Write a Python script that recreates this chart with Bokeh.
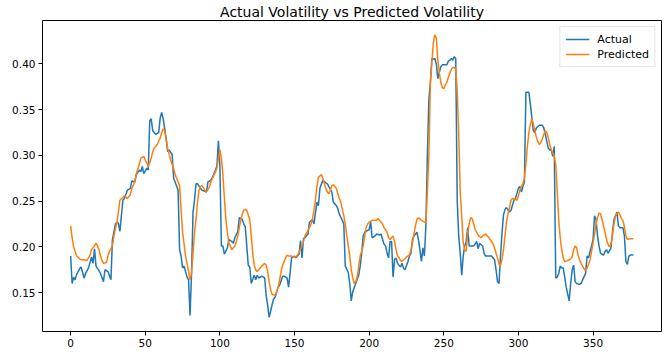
from bokeh.plotting import figure
from bokeh.models import FixedTicker, Range1d, CustomJSTickFormatter, Legend, LegendItem
from bokeh.embed import file_html
from bokeh.resources import INLINE

title_text = "Actual Volatility vs Predicted Volatility"
series_names = ["Actual", "Predicted"]
x_ticks = [0, 50, 100, 150, 200, 250, 300, 350]
y_ticks = [0.15, 0.20, 0.25, 0.30, 0.35, 0.40]

actual_t = [0, 1, 2, 3, 4, 6, 7, 9, 10, 12, 14, 15, 16, 17, 19, 20, 22, 23, 25, 27,
            28, 30, 31, 32, 33, 35, 36, 38, 40, 41, 43, 44, 46, 47, 48, 49, 51, 52, 53, 54,
            55, 57, 59, 60, 61, 62, 64, 65, 66, 68, 69, 70, 72, 73, 74, 75, 76, 78, 79, 80,
            81, 82, 83, 84, 85, 87, 88, 91, 92, 94, 95, 97, 98, 99, 100, 101, 102, 103, 105, 106,
            108, 109, 110, 112, 113, 115, 116, 117, 119, 120, 121, 123, 124, 125, 126, 128, 130, 131, 132, 133,
            135, 136, 137, 139, 140, 142, 143, 145, 146, 147, 148, 150, 151, 153, 154, 155, 156, 157, 159, 160,
            162, 163, 165, 166, 167, 169, 170, 172, 173, 175, 176, 178, 179, 180, 182, 183, 184, 186, 187, 188,
            189, 191, 193, 194, 195, 196, 197, 199, 200, 201, 202, 204, 205, 207, 208, 209, 210, 211, 212, 213,
            214, 215, 216, 217, 218, 219, 221, 222, 223, 224, 226, 227, 228, 229, 230, 232, 233, 234, 235, 236,
            237, 238, 239, 240, 241, 242, 243, 244, 245, 246, 247, 248, 249, 251, 252, 253, 254, 255, 256, 257,
            258, 259, 260, 261, 262, 263, 264, 265, 266, 267, 268, 269, 270, 271, 272, 273, 274, 276, 277, 278,
            280, 282, 284, 285, 286, 287, 288, 289, 290, 291, 292, 294, 295, 297, 298, 300, 301, 302, 303, 304,
            305, 306, 307, 308, 309, 310, 311, 312, 314, 316, 317, 318, 320, 321, 322, 323, 324, 325, 326, 327,
            328, 329, 330, 331, 332, 334, 335, 336, 337, 338, 339, 341, 342, 343, 345, 346, 347, 348, 349, 350,
            351, 352, 353, 354, 355, 357, 358, 359, 360, 362, 363, 364, 365, 366, 367, 368, 370, 371, 372, 373,
            374, 375, 377]
actual_v = [0.190, 0.160, 0.167, 0.164, 0.170, 0.176, 0.178, 0.166, 0.171, 0.177, 0.189, 0.182, 0.198, 0.179, 0.174, 0.171, 0.162, 0.175, 0.173, 0.164,
            0.208, 0.225, 0.227, 0.226, 0.217, 0.251, 0.253, 0.262, 0.264, 0.272, 0.271, 0.279, 0.284, 0.282, 0.288, 0.280, 0.286, 0.284, 0.338, 0.340,
            0.327, 0.323, 0.325, 0.341, 0.347, 0.340, 0.319, 0.304, 0.306, 0.301, 0.275, 0.271, 0.262, 0.197, 0.190, 0.177, 0.179, 0.167, 0.164, 0.125,
            0.171, 0.238, 0.251, 0.269, 0.269, 0.264, 0.262, 0.260, 0.271, 0.273, 0.276, 0.284, 0.288, 0.316, 0.288, 0.201, 0.201, 0.192, 0.199, 0.208,
            0.206, 0.204, 0.210, 0.217, 0.232, 0.230, 0.225, 0.222, 0.180, 0.178, 0.160, 0.169, 0.164, 0.169, 0.166, 0.168, 0.166, 0.147, 0.136, 0.123,
            0.137, 0.143, 0.145, 0.156, 0.158, 0.168, 0.168, 0.166, 0.156, 0.171, 0.188, 0.190, 0.188, 0.192, 0.207, 0.188, 0.209, 0.210, 0.214, 0.227,
            0.230, 0.225, 0.249, 0.245, 0.264, 0.273, 0.271, 0.269, 0.266, 0.260, 0.249, 0.245, 0.242, 0.236, 0.229, 0.225, 0.179, 0.172, 0.160, 0.141,
            0.151, 0.160, 0.169, 0.179, 0.193, 0.212, 0.216, 0.218, 0.219, 0.227, 0.210, 0.212, 0.214, 0.213, 0.214, 0.208, 0.203, 0.201, 0.193, 0.188,
            0.206, 0.206, 0.167, 0.186, 0.188, 0.182, 0.178, 0.182, 0.177, 0.175, 0.184, 0.190, 0.193, 0.208, 0.212, 0.216, 0.208, 0.197, 0.184, 0.199,
            0.190, 0.223, 0.300, 0.362, 0.379, 0.406, 0.405, 0.406, 0.400, 0.384, 0.391, 0.397, 0.399, 0.399, 0.399, 0.403, 0.404, 0.406, 0.404, 0.408,
            0.406, 0.250, 0.212, 0.193, 0.169, 0.190, 0.201, 0.206, 0.221, 0.201, 0.201, 0.201, 0.201, 0.203, 0.206, 0.198, 0.204, 0.201, 0.193, 0.190,
            0.190, 0.190, 0.186, 0.175, 0.162, 0.160, 0.190, 0.215, 0.235, 0.241, 0.243, 0.238, 0.240, 0.251, 0.253, 0.264, 0.266, 0.260, 0.266, 0.271,
            0.369, 0.369, 0.369, 0.356, 0.341, 0.327, 0.325, 0.330, 0.333, 0.333, 0.330, 0.323, 0.308, 0.306, 0.306, 0.299, 0.310, 0.166, 0.167, 0.171,
            0.179, 0.177, 0.177, 0.167, 0.156, 0.141, 0.160, 0.175, 0.180, 0.162, 0.160, 0.159, 0.160, 0.164, 0.171, 0.190, 0.188, 0.195, 0.201, 0.208,
            0.234, 0.230, 0.212, 0.201, 0.193, 0.191, 0.195, 0.197, 0.193, 0.199, 0.216, 0.230, 0.234, 0.238, 0.223, 0.221, 0.221, 0.212, 0.184, 0.181,
            0.190, 0.191, 0.191]

pred_t = [0, 1, 2, 3, 4, 6, 7, 9, 11, 12, 13, 14, 16, 17, 18, 19, 20, 21, 22, 24,
          25, 26, 28, 29, 31, 32, 33, 35, 36, 38, 40, 41, 43, 44, 46, 47, 49, 50, 52, 54,
          55, 56, 58, 60, 61, 62, 63, 64, 65, 67, 69, 70, 72, 73, 74, 75, 77, 79, 80, 81,
          82, 83, 84, 85, 86, 87, 88, 90, 91, 93, 94, 95, 97, 98, 99, 100, 101, 102, 103, 104,
          105, 106, 107, 108, 110, 111, 112, 113, 114, 115, 116, 117, 118, 120, 121, 122, 123, 124, 125, 126,
          127, 128, 130, 131, 132, 133, 134, 135, 137, 138, 139, 140, 141, 142, 144, 145, 146, 148, 149, 151,
          152, 153, 154, 155, 156, 157, 159, 160, 161, 162, 163, 164, 165, 166, 168, 169, 170, 171, 172, 173,
          174, 175, 176, 178, 179, 180, 181, 182, 183, 184, 185, 187, 188, 189, 190, 191, 192, 193, 194, 196,
          197, 198, 199, 200, 202, 205, 206, 207, 209, 210, 212, 213, 214, 216, 217, 218, 219, 220, 221, 222,
          224, 225, 227, 228, 229, 230, 231, 232, 233, 235, 237, 238, 239, 240, 241, 242, 243, 244, 245, 246,
          247, 248, 249, 250, 251, 252, 253, 254, 255, 256, 257, 258, 259, 260, 261, 262, 263, 264, 265, 266,
          267, 268, 269, 270, 271, 272, 273, 274, 275, 276, 278, 279, 280, 281, 282, 283, 284, 285, 286, 287,
          288, 289, 290, 291, 292, 293, 294, 295, 296, 298, 299, 300, 301, 302, 303, 304, 305, 306, 307, 308,
          309, 310, 311, 312, 313, 314, 315, 316, 317, 318, 319, 320, 321, 322, 323, 324, 325, 326, 327, 328,
          329, 330, 331, 333, 335, 336, 337, 338, 339, 340, 341, 342, 343, 344, 345, 346, 347, 348, 349, 350,
          351, 352, 353, 354, 355, 356, 357, 358, 359, 360, 361, 362, 363, 364, 365, 366, 367, 368, 369, 370,
          371, 372, 373, 375, 377]
pred_v = [0.223, 0.210, 0.200, 0.195, 0.190, 0.187, 0.186, 0.186, 0.185, 0.188, 0.191, 0.197, 0.201, 0.204, 0.201, 0.197, 0.190, 0.185, 0.182, 0.183,
          0.190, 0.195, 0.201, 0.212, 0.227, 0.238, 0.251, 0.254, 0.256, 0.253, 0.257, 0.264, 0.271, 0.280, 0.290, 0.297, 0.299, 0.295, 0.288, 0.297,
          0.304, 0.308, 0.312, 0.319, 0.325, 0.329, 0.327, 0.317, 0.308, 0.295, 0.286, 0.279, 0.271, 0.267, 0.241, 0.216, 0.190, 0.173, 0.164, 0.171,
          0.193, 0.216, 0.230, 0.249, 0.262, 0.266, 0.267, 0.262, 0.260, 0.266, 0.271, 0.275, 0.282, 0.286, 0.297, 0.306, 0.297, 0.279, 0.253, 0.230,
          0.216, 0.204, 0.201, 0.197, 0.201, 0.206, 0.212, 0.221, 0.229, 0.236, 0.240, 0.241, 0.240, 0.230, 0.212, 0.193, 0.180, 0.175, 0.173, 0.175,
          0.177, 0.179, 0.182, 0.180, 0.173, 0.162, 0.153, 0.148, 0.147, 0.151, 0.156, 0.164, 0.173, 0.180, 0.188, 0.191, 0.190, 0.190, 0.189, 0.189,
          0.191, 0.194, 0.198, 0.201, 0.206, 0.212, 0.218, 0.221, 0.225, 0.230, 0.240, 0.251, 0.266, 0.276, 0.279, 0.275, 0.269, 0.264, 0.260, 0.258,
          0.262, 0.267, 0.268, 0.264, 0.258, 0.253, 0.249, 0.241, 0.234, 0.225, 0.212, 0.190, 0.175, 0.166, 0.160, 0.162, 0.167, 0.179, 0.190, 0.201,
          0.212, 0.221, 0.225, 0.227, 0.229, 0.229, 0.231, 0.229, 0.225, 0.221, 0.216, 0.210, 0.208, 0.212, 0.206, 0.197, 0.190, 0.188, 0.185, 0.184,
          0.187, 0.189, 0.191, 0.197, 0.204, 0.214, 0.223, 0.230, 0.232, 0.229, 0.227, 0.226, 0.260, 0.300, 0.379, 0.401, 0.423, 0.432, 0.428, 0.405,
          0.390, 0.380, 0.374, 0.373, 0.377, 0.380, 0.385, 0.390, 0.394, 0.396, 0.396, 0.395, 0.371, 0.323, 0.260, 0.234, 0.205, 0.197, 0.195, 0.215,
          0.225, 0.232, 0.231, 0.225, 0.219, 0.216, 0.213, 0.211, 0.210, 0.212, 0.214, 0.212, 0.211, 0.208, 0.206, 0.203, 0.199, 0.193, 0.188, 0.181,
          0.180, 0.186, 0.197, 0.212, 0.227, 0.236, 0.243, 0.251, 0.253, 0.252, 0.251, 0.256, 0.262, 0.266, 0.269, 0.275, 0.290, 0.310, 0.325, 0.334,
          0.340, 0.334, 0.327, 0.320, 0.315, 0.312, 0.314, 0.318, 0.323, 0.327, 0.325, 0.319, 0.312, 0.306, 0.303, 0.299, 0.290, 0.260, 0.230, 0.210,
          0.197, 0.188, 0.184, 0.185, 0.187, 0.189, 0.197, 0.201, 0.199, 0.191, 0.186, 0.182, 0.179, 0.176, 0.174, 0.177, 0.181, 0.186, 0.195, 0.204,
          0.214, 0.225, 0.232, 0.237, 0.236, 0.230, 0.223, 0.216, 0.208, 0.203, 0.200, 0.203, 0.212, 0.225, 0.234, 0.237, 0.238, 0.235, 0.231, 0.229,
          0.222, 0.212, 0.208, 0.209, 0.209]

FONT = "DejaVu Sans"

p = figure(width=664, height=349, output_backend="svg", toolbar_location=None,
           x_range=Range1d(-18.85, 395.85), y_range=Range1d(0.1075, 0.4475),
           min_border_left=42, min_border_right=3, min_border_top=9, min_border_bottom=0,
           background_fill_color="white", border_fill_color="white")

p.title.text = title_text
p.title.align = "center"
p.title.text_font = FONT
p.title.text_font_size = "14px"
p.title.text_font_style = "normal"
p.title.text_color = "black"
p.title.standoff = 2

p.outline_line_color = "black"
p.outline_line_width = 1
p.outline_line_alpha = 1.0
p.xgrid.visible = False
p.ygrid.visible = False

for ax in (p.xaxis[0], p.yaxis[0]):
    ax.axis_line_color = None
    ax.major_tick_in = 0
    ax.major_tick_out = 4
    ax.minor_tick_line_color = None
    ax.major_tick_line_color = "black"
    ax.major_label_text_font = FONT
    ax.major_label_text_font_size = "10.5px"
    ax.major_label_text_color = "black"
    ax.major_label_standoff = 3

p.xaxis[0].ticker = FixedTicker(ticks=x_ticks)
p.yaxis[0].ticker = FixedTicker(ticks=y_ticks)
p.yaxis[0].formatter = CustomJSTickFormatter(code="return tick.toFixed(2);")

r1 = p.line(actual_t, actual_v, line_color="#1f77b4", line_width=1.5)
r2 = p.line(pred_t, pred_v, line_color="#ff7f0e", line_width=1.5)

legend = Legend(items=[LegendItem(label=series_names[0], renderers=[r1]),
                       LegendItem(label=series_names[1], renderers=[r2])],
                location="top_right")
legend.label_text_font = FONT
legend.label_text_font_size = "11px"
legend.label_text_color = "black"
legend.glyph_width = 24
legend.glyph_height = 14
legend.label_height = 14
legend.label_standoff = 8
legend.spacing = 1
legend.padding = 5
legend.margin = 6
legend.border_line_color = "#cccccc"
legend.border_line_width = 1
legend.background_fill_alpha = 0.8
p.add_layout(legend)

open("out.html", "w").write(file_html(p, INLINE))
